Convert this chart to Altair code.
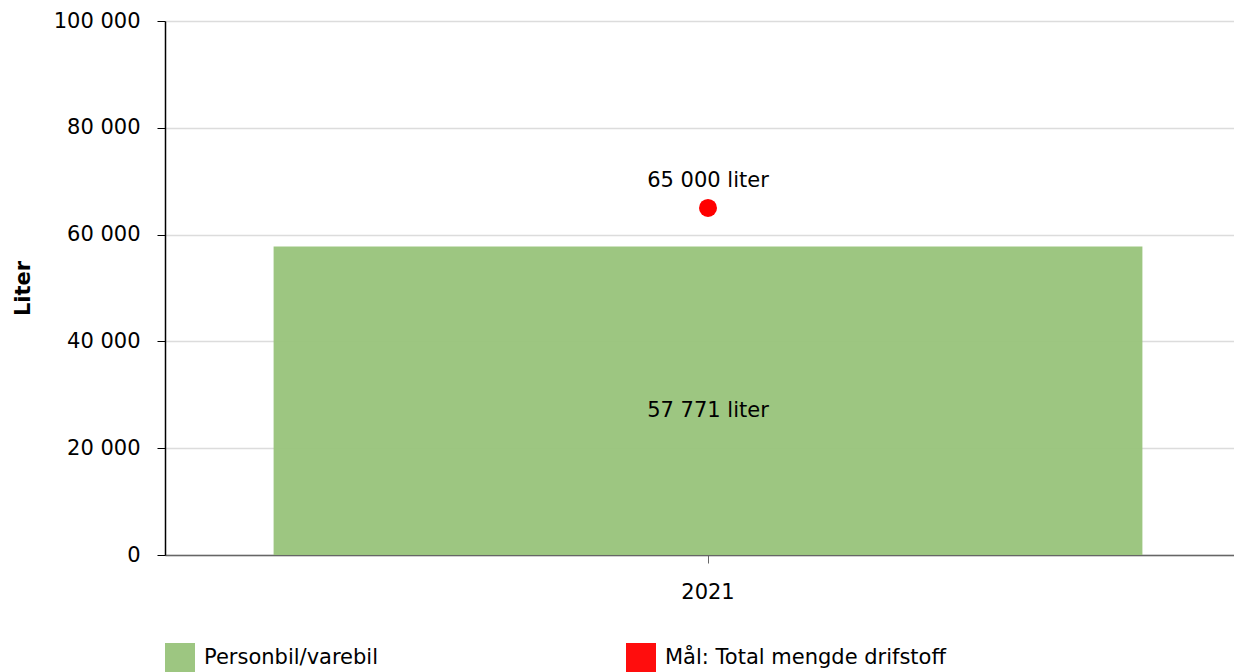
import altair as alt
import pandas as pd

years = ["2021"]
series_bar = "Personbil/varebil"
series_goal = "Mål: Total mengde drifstoff"
bar_values = [57771]
goal_values = [65000]
y_ticks = [0, 20000, 40000, 60000, 80000, 100000]

bar_df = pd.DataFrame({"year": years, "value": bar_values, "series": [series_bar] * len(years)})
goal_df = pd.DataFrame({"year": years, "value": goal_values, "series": [series_goal] * len(years)})

FONT = "DejaVu Sans"
FS = 21
num_fmt = "join(split(format(datum.value, ','), ','), ' ')"

color_scale = alt.Scale(domain=[series_bar, series_goal], range=["#98c37a", "#ff0000"])

x_enc = alt.X(
    "year:N",
    scale=alt.Scale(range=[0, 1086], paddingInner=0.2, paddingOuter=0.1),
    axis=alt.Axis(
        title=None, labelAngle=0, labelFontSize=FS, labelFont=FONT, labelColor="#000000",
        tickSize=8, tickColor="#666666", domainColor="#666666", domainWidth=1.5,
        labelPadding=18, grid=False,
    ),
)
y_enc = alt.Y(
    "value:Q",
    scale=alt.Scale(domain=[0, 100000], nice=False),
    axis=alt.Axis(
        values=y_ticks, labelExpr=num_fmt, labelFontSize=FS, labelFont=FONT, labelColor="#000000",
        tickSize=8, tickColor="#000000", domainColor="#000000", domainWidth=1.5,
        labelPadding=17, gridColor="#dcdcdc", gridWidth=1.5,
        title="Liter", titleFont=FONT, titleFontSize=FS, titleFontWeight="bold",
        titleColor="#000000", titlePadding=20,
    ),
)
color_enc = alt.Color(
    "series:N",
    scale=color_scale,
    sort=[series_bar, series_goal],
    legend=alt.Legend(
        title=None, orient="none", legendX=0, legendY=622, direction="horizontal",
        symbolType="square", symbolSize=900, symbolStrokeWidth=0,
        labelFont=FONT, labelFontSize=FS, labelColor="#000000", labelOffset=9,
        columnPadding=247, padding=0, labelLimit=600,
    ),
)

bars = alt.Chart(bar_df).mark_bar(opacity=0.95).encode(x=x_enc, y=y_enc, color=color_enc)

bar_text = alt.Chart(bar_df).transform_calculate(
    label=num_fmt + " + ' liter'", mid="datum.value / 2"
).mark_text(font=FONT, fontSize=FS, color="#000000", dy=10).encode(
    x="year:N", y="mid:Q", text="label:N"
)

points = alt.Chart(goal_df).mark_point(filled=True, size=324, opacity=1, shape="circle").encode(
    x="year:N", y="value:Q", color=color_enc
)

point_text = alt.Chart(goal_df).transform_calculate(
    label=num_fmt + " + ' liter'"
).mark_text(font=FONT, fontSize=FS, color="#000000", dy=-27).encode(
    x="year:N", y="value:Q", text="label:N"
)

chart = alt.layer(bars, bar_text, points, point_text).properties(
    width=1069, height=534,
    autosize=alt.AutoSizeParams(type="none"),
    padding={"left": 157, "top": 13, "right": 0, "bottom": 117},
).configure_view(stroke=None).configure(font=FONT)

chart.save("out.html", embed_options={"renderer": "svg", "actions": False})
